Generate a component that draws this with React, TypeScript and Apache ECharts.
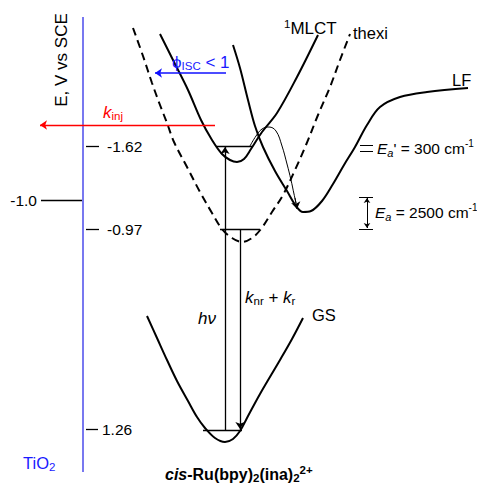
import React, { useEffect, useRef } from "react";
import * as echarts from "echarts";

type Pt = [number, number];

// ---- diagram data (configuration coordinate, energy in diagram units; y grows downward) ----
const mlctCurve: Pt[] = [[160,34],[174,62],[188,90],[201,120],[212,140],[222,154],[230,160],[237,162],[244,159],[251,149],[262,132],[277,113],[297,77],[318,35]];
const thexiCurve: Pt[] = [[133,28],[143,56],[152,83],[160,105],[167,123],[174,142],[187,167],[200,192],[212,213],[222,229],[232,238],[242,242],[252,238],[261,229],[272,212],[283,195],[295,170],[306,145],[318,115],[330,87],[340,60],[350,34]];
const lfCurve: Pt[] = [[233,45],[240,68],[248,100],[255,126],[263,147],[275,171],[287,191],[296,206],[303,212],[311,211],[322,201],[333,184],[344,165],[355,147],[367,125],[380,107],[400,97],[427,92],[468,88]];
const gsCurve: Pt[] = [[147,316],[157,338],[167,360],[177,381],[188,401],[197,417],[205,428],[215,438],[225,442],[233,439],[240,431],[247,418],[260,394],[280,360],[292,339],[303,318]];
const transferArc: Pt[] = [[250,146],[256,136],[262,129],[269,127],[276,131],[282,146],[287,164],[291,180],[294,194],[296,203]];

// vibrational levels [xStart, xEnd, energy]
const levels: [number, number, number][] = [[217,252,146],[220,260,229],[203,242,430]];
// energy scale ticks
const tickEnergies = [146, 229, 429];
const tickLabels = ["-1.62", "-0.97", "1.26"];
const tio2Energy = 200;
const tio2Label = "-1.0";

// arrows [from, to]
const injArrow: [Pt, Pt] = [[215,125],[40,125]];
const iscArrow: [Pt, Pt] = [[226,73],[155,73]];
const absArrow: [Pt, Pt] = [[225,430],[225,147]];
const decayArrow: [Pt, Pt] = [[240,229],[240,429]];
const arcHead: [Pt, Pt] = [[295,198],[297,209]];
const eaBracket: [Pt, Pt] = [[367,198],[367,228]];

const FONT = "'Liberation Sans', Arial, Helvetica, sans-serif";

function st(size: number, color: string, extra: any = {}) {
  return { fontSize: size, fontFamily: FONT, fill: color, lineHeight: 20, ...extra };
}
function sub(size: number, color: string, extra: any = {}) {
  return { fontSize: size, fontFamily: FONT, fill: color, lineHeight: size, verticalAlign: "bottom", ...extra };
}
function sup(size: number, color: string, extra: any = {}) {
  return { fontSize: size, fontFamily: FONT, fill: color, lineHeight: size, verticalAlign: "top", ...extra };
}

export default function App() {
  const ref = useRef<HTMLDivElement>(null);
  useEffect(() => {
    const chart = echarts.init(ref.current!, undefined, { renderer: "svg" });

    const seg = (a: Pt, b: Pt, color = "#000", width = 1.3) => ({
      coords: [a, b],
      lineStyle: { color, width, type: "solid", opacity: 1 },
    });

    const plainSegs: any[] = [];
    levels.forEach(([x1, x2, e]) => plainSegs.push(seg([x1, e], [x2, e])));
    tickEnergies.forEach((e, i) => plainSegs.push(seg([86, e], [i === 2 ? 98 : 99, e])));
    plainSegs.push(seg([41, tio2Energy], [83, tio2Energy]));
    plainSegs.push(seg([360, 145], [373, 145], "#000", 1));
    plainSegs.push(seg([360, 151], [373, 151], "#000", 1));
    plainSegs.push(seg([359, 197], [373, 197], "#000", 1));
    plainSegs.push(seg([359, 229], [373, 229], "#000", 1));
    plainSegs.push(seg([83, 17], [83, 472], "#7878f0", 2));

    const curve = (name: string, data: Pt[], width: number, dashed = false) => ({
      type: "line",
      name,
      data,
      smooth: 0.35,
      symbol: "none",
      silent: true,
      lineStyle: { color: "#000", width, type: dashed ? [8, 5] : "solid" },
      z: 3,
    });

    chart.setOption({
      animation: false,
      grid: { left: 0, right: 0, top: 0, bottom: 0 },
      xAxis: { type: "value", min: 0, max: 477, show: false },
      yAxis: { type: "value", min: 0, max: 487, inverse: true, show: false },
      series: [
        curve("MLCT", mlctCurve, 2),
        curve("thexi", thexiCurve, 2, true),
        curve("LF", lfCurve, 2),
        curve("GS", gsCurve, 2),
        { ...curve("transfer", transferArc, 1), smooth: 0.4 },
        {
          type: "lines",
          coordinateSystem: "cartesian2d",
          silent: true,
          symbol: ["none", "none"],
          data: plainSegs,
          z: 2,
        },
        {
          type: "lines",
          coordinateSystem: "cartesian2d",
          silent: true,
          symbol: ["none", "arrow"],
          symbolSize: 7,
          data: [
            seg(injArrow[0], injArrow[1], "#ff0000", 1.3),
            seg(iscArrow[0], iscArrow[1], "#1010ff", 1.6),
            seg(absArrow[0], absArrow[1]),
            seg(decayArrow[0], decayArrow[1]),
            seg(arcHead[0], arcHead[1], "#000", 1),
          ],
          z: 4,
        },
        {
          type: "lines",
          coordinateSystem: "cartesian2d",
          silent: true,
          symbol: ["arrow", "arrow"],
          symbolSize: 5,
          data: [seg(eaBracket[0], eaBracket[1], "#000", 1)],
          z: 4,
        },
      ],
    });

    const px = (p: Pt) => chart.convertToPixel({ gridIndex: 0 }, p) as number[];
    const txt = (p: Pt, text: string, rich: any, align = "left", rotation = 0) => {
      const [x, y] = px(p);
      return {
        type: "text",
        x,
        y,
        rotation,
        silent: true,
        z: 10,
        style: { text, rich, align, verticalAlign: "middle", textAlign: align, textVerticalAlign: "middle", x: 0, y: 0 },
      };
    };
    const BLK = "#000";
    const BLUE = "#1a1aff";
    const RED = "#ff0000";

    const els: any[] = [
      txt([61, 60], "{m|E, V vs SCE}", { m: st(17, BLK) }, "center", Math.PI / 2),
      ...tickLabels.map((t, i) =>
        txt([i === 2 ? 102 : 107, tickEnergies[i]], `{m|${t}}`, { m: st(15.5, BLK) })
      ),
      txt([37, tio2Energy], `{m|${tio2Label}}`, { m: st(15.5, BLK) }, "right"),
      txt([23, 463], "{m|TiO}{s|2}", { m: st(16.5, BLUE), s: sub(11.5, BLUE) }),
      txt([103, 112], "{k|k}{s|inj}", { k: st(17, RED, { fontStyle: "italic" }), s: sub(11.5, RED) }),
      txt([172, 62], "{m|ϕ}{s|ISC}{m| < 1}", { m: st(17, BLUE), s: sub(11.5, BLUE) }),
      txt([284, 28], "{p|1}{m|MLCT}", { m: st(17, BLK), p: sup(11.5, BLK) }),
      txt([353, 33], "{m|thexi}", { m: st(16.5, BLK) }),
      txt([452, 80], "{m|LF}", { m: st(16.5, BLK) }),
      txt([312, 315], "{m|GS}", { m: st(16.5, BLK) }),
      txt([198, 318], "{m|hν}", { m: st(17, BLK, { fontStyle: "italic" }) }),
      txt([245, 297], "{k|k}{s|nr}{m| + }{k|k}{s|r}", {
        k: st(17, BLK, { fontStyle: "italic" }),
        m: st(17, BLK),
        s: sub(11.5, BLK),
      }),
      txt([377, 148], "{e|E}{s|a}{m|' = 300 cm}{p|-1}", {
        e: st(15.5, BLK, { fontStyle: "italic" }),
        s: sub(11, BLK, { fontStyle: "italic" }),
        m: st(15.5, BLK),
        p: sup(10, BLK),
      }),
      txt([375, 212], "{e|E}{s|a}{m| = 2500 cm}{p|-1}", {
        e: st(15.5, BLK, { fontStyle: "italic" }),
        s: sub(11, BLK, { fontStyle: "italic" }),
        m: st(15.5, BLK),
        p: sup(10, BLK),
      }),
      txt([165, 474], "{i|cis}{b|-Ru(bpy)}{s|2}{b|(ina)}{s|2}{p|2+}", {
        i: st(16, BLK, { fontWeight: "bold", fontStyle: "italic" }),
        b: st(16, BLK, { fontWeight: "bold" }),
        s: sub(11.5, BLK, { fontWeight: "bold" }),
        p: sup(11.5, BLK, { fontWeight: "bold" }),
      }),
    ];
    chart.setOption({ graphic: { elements: els } });

    return () => chart.dispose();
  }, []);
  return <div ref={ref} style={{ position: "absolute", left: 0, top: 0, width: 477, height: 487 }} />;
}
